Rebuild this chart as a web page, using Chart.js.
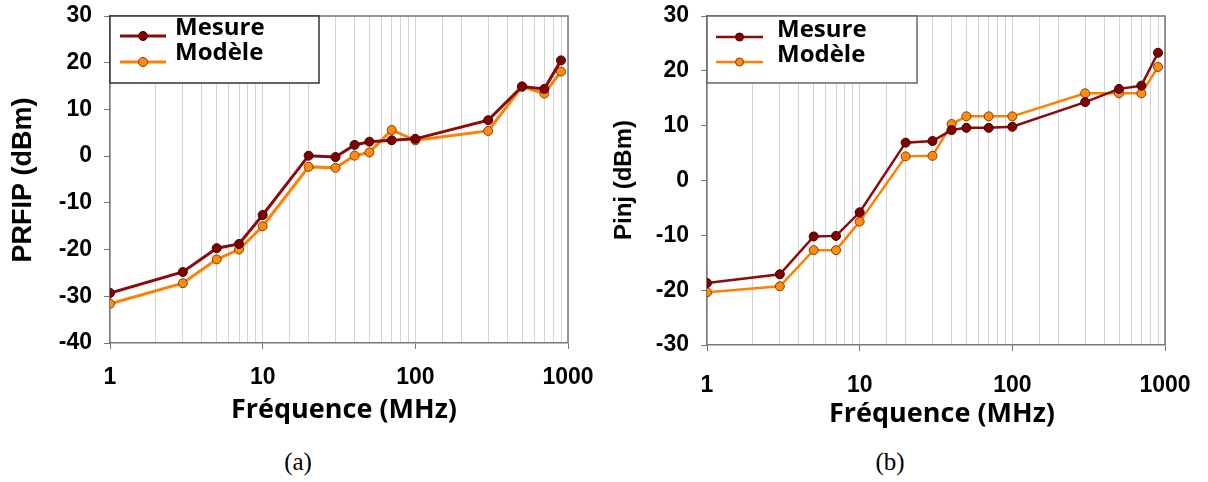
<!DOCTYPE html>
<html>
<head>
<meta charset="utf-8">
<script src="https://cdn.jsdelivr.net/npm/chart.js@4/dist/chart.umd.min.js"></script>
<style>
  body { margin:0; background:#fff; width:1208px; height:482px; position:relative; overflow:hidden; }
  canvas { position:absolute; top:0; }
  #chartA { left:0; }
  #chartB { left:600px; }
  .cap { position:absolute; top:448px; font-size:25px; font-family:"Liberation Serif","Times New Roman",serif; color:#000; transform:translateX(-50%); }
</style>
</head>
<body>
<canvas id="chartA" width="600" height="440"></canvas>
<canvas id="chartB" width="608" height="440"></canvas>
<div class="cap" style="left:298px">(a)</div>
<div class="cap" style="left:890px">(b)</div>

<script>
// frequencies (MHz)
var freq = [1, 3, 5, 7, 10, 20, 30, 40, 50, 70, 100, 300, 500, 700, 900];

// (a) PRFIP
var mesureA = [-29.3, -24.8, -19.7, -18.8, -12.6, 0.1, -0.2, 2.4, 3.1, 3.4, 3.7, 7.7, 14.9, 14.4, 20.5];
var modeleA = [-31.6, -27.2, -22.1, -20.0, -15.0, -2.3, -2.5, 0.1, 0.8, 5.6, 3.4, 5.4, 14.9, 13.4, 18.1];

// (b) Pinj
var mesureB = [-18.7, -17.1, -10.2, -10.1, -5.8, 6.9, 7.2, 9.2, 9.6, 9.6, 9.8, 14.3, 16.7, 17.3, 23.3];
var modeleB = [-20.4, -19.3, -12.7, -12.7, -7.5, 4.4, 4.5, 10.3, 11.7, 11.7, 11.7, 15.9, 15.9, 15.9, 20.7];

var xTickLabels = [1, 10, 100, 1000];
var seriesNames = ["Mesure", "Modèle"];

var redLine = "#8b0a0a", redDot = "#820000", redEdge = "#3c0000";
var orgLine = "#ff8000", orgDot = "#ff8c10", orgEdge = "#7a4208";
var tickFont = { family: "'Liberation Sans', Arial, sans-serif", weight: "bold", size: 23 };

function pts(ys) {
  return freq.map(function (f, i) { return { x: f, y: ys[i] }; });
}

function isMajor(v) {
  var l = Math.log10(v);
  return Math.abs(l - Math.round(l)) < 1e-9;
}

// frame, legend box and axis titles
var decor = {
  id: "decor",
  afterDraw: function (chart, args, o) {
    var ctx = chart.ctx, a = chart.chartArea;
    ctx.save();
    // top and right frame
    ctx.strokeStyle = "#777";
    ctx.lineWidth = 1.5;
    ctx.beginPath();
    ctx.moveTo(a.left, a.top);
    ctx.lineTo(a.right, a.top);
    ctx.lineTo(a.right, a.bottom);
    ctx.stroke();

    // legend
    var L = o.legend;
    ctx.fillStyle = "#fff";
    ctx.fillRect(L.x, L.y, L.w, L.h);
    ctx.strokeStyle = L.border;
    ctx.lineWidth = 1.5;
    ctx.strokeRect(L.x, L.y, L.w, L.h);
    var items = [
      { c: redLine, f: redDot, e: redEdge, ly: L.line1, ty: L.text1 },
      { c: orgLine, f: orgDot, e: orgEdge, ly: L.line2, ty: L.text2 }
    ];
    items.forEach(function (it, i) {
      ctx.strokeStyle = it.c;
      ctx.lineWidth = L.lw;
      ctx.beginPath();
      ctx.moveTo(L.lx0, it.ly);
      ctx.lineTo(L.lx1, it.ly);
      ctx.stroke();
      ctx.beginPath();
      ctx.arc((L.lx0 + L.lx1) / 2, it.ly, L.r, 0, Math.PI * 2);
      ctx.fillStyle = it.f;
      ctx.fill();
      ctx.strokeStyle = it.e;
      ctx.lineWidth = 1;
      ctx.stroke();
      ctx.fillStyle = "#000";
      ctx.font = "bold 24px 'Open Sans', sans-serif";
      ctx.textAlign = "left";
      ctx.textBaseline = "middle";
      ctx.fillText(seriesNames[i], L.tx, it.ty);
    });

    // y title
    ctx.save();
    ctx.translate(o.yTitle.x, o.yTitle.y);
    ctx.rotate(-Math.PI / 2);
    ctx.fillStyle = "#000";
    ctx.font = "bold " + o.yTitle.size + "px 'Liberation Sans', Arial, sans-serif";
    ctx.textAlign = "center";
    ctx.textBaseline = "middle";
    ctx.fillText(o.yTitle.text, 0, 0);
    ctx.restore();

    // x title
    ctx.fillStyle = "#000";
    ctx.font = "bold " + o.xTitle.size + "px 'Open Sans', sans-serif";
    ctx.textAlign = "center";
    ctx.textBaseline = "middle";
    ctx.fillText(o.xTitle.text, o.xTitle.x, o.xTitle.y);
    ctx.restore();
  }
};

function makeChart(id, s1, s2, ymin, ymax, geo) {
  return new Chart(document.getElementById(id), {
    type: "line",
    data: {
      datasets: [
        { label: seriesNames[0], data: pts(s1), borderColor: redLine, borderWidth: geo.lw,
          pointBackgroundColor: redDot, pointBorderColor: redEdge, pointBorderWidth: 1,
          pointRadius: geo.r, tension: 0 },
        { label: seriesNames[1], data: pts(s2), borderColor: orgLine, borderWidth: geo.lw,
          pointBackgroundColor: orgDot, pointBorderColor: orgEdge, pointBorderWidth: 1,
          pointRadius: geo.r, tension: 0 }
      ]
    },
    options: {
      responsive: false,
      animation: false,
      devicePixelRatio: 1,
      layout: { padding: { top: 16, right: geo.padR, left: 0, bottom: 0 } },
      plugins: {
        legend: { display: false },
        tooltip: { enabled: false },
        decor: geo.decor
      },
      scales: {
        x: {
          type: "logarithmic",
          min: 1, max: 1000,
          grid: {
            color: "#d4d4d4",
            lineWidth: 1,
            tickLength: 6,
            tickColor: function (c) { return c.tick && isMajor(c.tick.value) ? "#777" : "rgba(0,0,0,0)"; }
          },
          border: { color: "#777", width: 1.5 },
          ticks: {
            autoSkip: false, maxRotation: 0, padding: geo.xPad, color: "#000", font: tickFont,
            callback: function (v) { return xTickLabels.indexOf(v) >= 0 || isMajor(v) ? String(Math.round(v)) : ""; }
          },
          afterFit: function (s) { s.height = geo.xH; s.paddingLeft = 0; s.paddingRight = 0; }
        },
        y: {
          min: ymin, max: ymax,
          grid: { drawOnChartArea: false, tickLength: 6, tickColor: "#777" },
          border: { color: "#777", width: 1.5 },
          ticks: { stepSize: 10, padding: 12, color: "#000", font: tickFont },
          afterFit: function (s) { s.width = geo.yW; s.paddingTop = 0; s.paddingBottom = 0; }
        }
      }
    },
    plugins: [decor]
  });
}

makeChart("chartA", mesureA, modeleA, -40, 30, {
  lw: 3, r: 4.5, padR: 32, xPad: 15, xH: 97, yW: 110,
  decor: {
    legend: { x: 110, y: 16, w: 209, h: 67, border: "#333", lw: 3, r: 4.5,
              lx0: 120, lx1: 166, line1: 36, line2: 62, tx: 175, text1: 28, text2: 53 },
    yTitle: { text: "PRFIP (dBm)", x: 24, y: 180, size: 27 },
    xTitle: { text: "Fréquence (MHz)", x: 344, y: 410, size: 27 }
  }
});

makeChart("chartB", mesureB, modeleB, -30, 30, {
  lw: 2.5, r: 4.5, padR: 43, xPad: 21, xH: 95, yW: 107,
  decor: {
    legend: { x: 107, y: 16, w: 210, h: 67, border: "#666", lw: 2.5, r: 4,
              lx0: 116, lx1: 163, line1: 37, line2: 62, tx: 177, text1: 30, text2: 55 },
    yTitle: { text: "Pinj (dBm)", x: 24, y: 180, size: 24 },
    xTitle: { text: "Fréquence (MHz)", x: 342, y: 414, size: 27 }
  }
});
</script>
</body>
</html>
